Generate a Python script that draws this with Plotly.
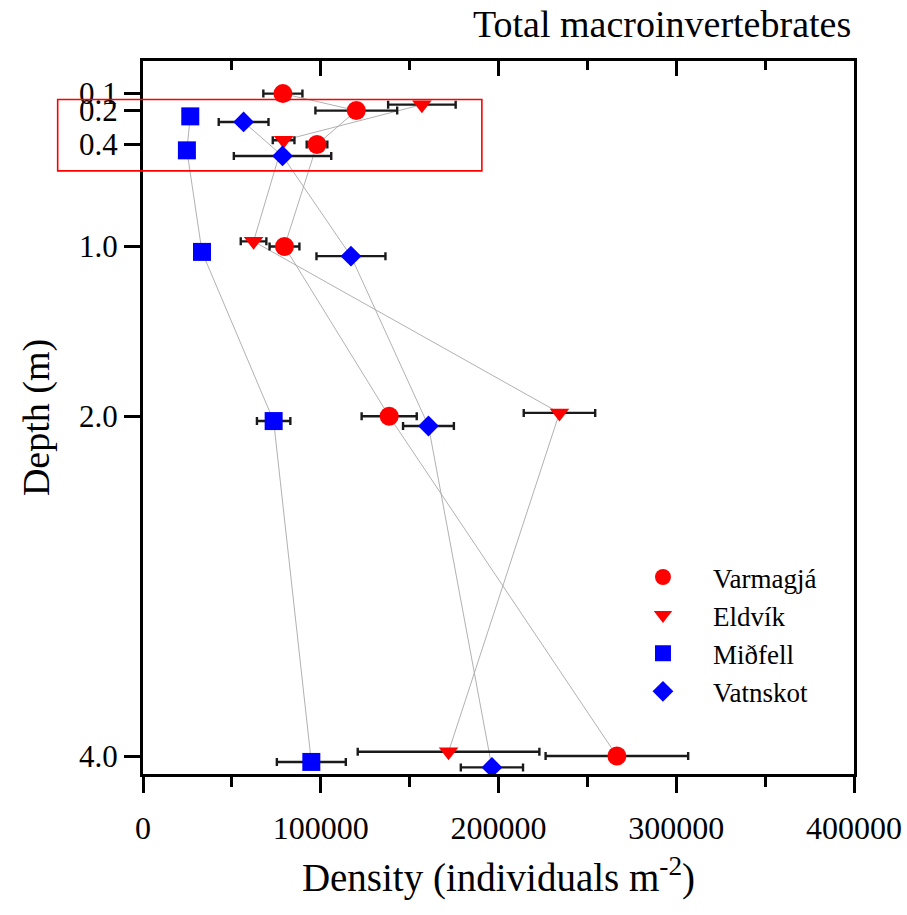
import plotly.graph_objects as go

# ---- data ----
series_names = ["Varmagjá", "Eldvík", "Miðfell", "Vatnskot"]

depth_varmagja = [0.1, 0.2, 0.4, 1.0, 2.0, 4.0]
dens_varmagja = [78700, 120000, 97900, 79600, 138500, 266600]
err_varmagja = [11000, 23000, 5800, 8400, 15500, 40100]

depth_eldvik = [0.165, 0.375, 0.97, 1.98, 3.975]
dens_eldvik = [156900, 79100, 62200, 234300, 171900]
err_eldvik = [19000, 6100, 7200, 20100, 51100]

depth_midfell = [0.234, 0.434, 1.032, 2.028, 4.035]
dens_midfell = [26600, 24700, 33200, 73500, 94700]
err_midfell = [3000, 3000, 3000, 9400, 19400]

depth_vatnskot = [0.267, 0.467, 1.057, 2.057, 4.067]
dens_vatnskot = [56600, 78500, 117000, 160600, 196300]
err_vatnskot = [14000, 27400, 19400, 14300, 17500]

y_tickvals = [0.1, 0.2, 0.4, 1.0, 2.0, 4.0]
y_ticktext = ["0.1", "0.2", "0.4", "1.0", "2.0", "4.0"]
x_tickvals = [0, 100000, 200000, 300000, 400000]
x_ticktext = ["0", "100000", "200000", "300000", "400000"]

FONT = "Liberation Serif"

series = [
    ("Varmagjá", depth_varmagja, dens_varmagja, err_varmagja, "circle", 19, "#ff0000"),
    ("Eldvík", depth_eldvik, dens_eldvik, err_eldvik, "triangle-down", 17, "#ff0000"),
    ("Miðfell", depth_midfell, dens_midfell, err_midfell, "square", 18, "#0000ff"),
    ("Vatnskot", depth_vatnskot, dens_vatnskot, err_vatnskot, "diamond", 16, "#0000ff"),
]

fig = go.Figure()

# connecting grey lines (beneath)
for name, d, x, e, sym, sz, col in series:
    fig.add_trace(go.Scatter(
        x=x, y=d, mode="lines", showlegend=False, hoverinfo="skip",
        line=dict(color="#a8a8a8", width=0.9),
    ))

# markers with error bars
for name, d, x, e, sym, sz, col in series:
    fig.add_trace(go.Scatter(
        x=x, y=d, mode="markers", name=name,
        marker=dict(symbol=sym, size=sz, color=col, line=dict(width=0)),
        error_x=dict(type="data", array=e, visible=True, color="#1a1a1a",
                     thickness=2.4, width=4),
    ))

# dummy trace for the top (inward ticks) axis
fig.add_trace(go.Scatter(x=[None], y=[None], xaxis="x2", showlegend=False,
                         hoverinfo="skip"))

axis_common = dict(showgrid=False, zeroline=False, color="black", automargin=False)

fig.update_layout(
    width=907, height=915,
    margin=dict(l=143, r=53, t=61, b=141, autoexpand=False),
    paper_bgcolor="white", plot_bgcolor="white",
    font=dict(family=FONT, color="black", size=32),
    xaxis=dict(
        **axis_common,
        range=[0, 400000],
        tickmode="array", tickvals=x_tickvals, ticktext=x_ticktext,
        ticks="outside", ticklen=16, tickwidth=3, tickcolor="black",
        ticklabelstandoff=8,
        minor=dict(ticks="outside", ticklen=10, tickwidth=3, tickcolor="black", dtick=50000),
        showline=True, linewidth=3, linecolor="black", mirror=True,
        tickfont=dict(family=FONT, size=32),
        title=dict(text="Density (individuals m<sup>-2</sup>)",
                   font=dict(family=FONT, size=39), standoff=19),
    ),
    xaxis2=dict(
        **axis_common,
        overlaying="x", side="top", matches="x", range=[0, 400000],
        tickmode="array", tickvals=x_tickvals, showticklabels=False,
        ticks="inside", ticklen=15, tickwidth=3, tickcolor="black",
        minor=dict(ticks="inside", ticklen=9, tickwidth=3, tickcolor="black", dtick=50000),
        showline=False,
    ),
    yaxis=dict(
        **axis_common,
        range=[4.106, -0.092],
        tickmode="array", tickvals=y_tickvals, ticktext=y_ticktext,
        ticks="outside", ticklen=16, tickwidth=3, tickcolor="black",
        showline=True, linewidth=3, linecolor="black", mirror=True,
        tickfont=dict(family=FONT, size=31),
        title=dict(text="Depth (m)", font=dict(family=FONT, size=38), standoff=18),
    ),
    legend=dict(
        x=0.661, y=0.310, xanchor="left", yanchor="top",
        bgcolor="rgba(0,0,0,0)", borderwidth=0,
        font=dict(family=FONT, size=27), itemwidth=90,
        tracegroupgap=0,
    ),
    showlegend=True,
)

# title
fig.add_annotation(
    text="Total macroinvertebrates", xref="paper", yref="paper",
    x=0.998, y=1.052, xanchor="right", yanchor="middle", showarrow=False,
    font=dict(family=FONT, size=38, color="black"),
)

# red highlight box around the shallow depths
fig.add_shape(
    type="rect", xref="paper", yref="paper",
    x0=-0.12, x1=0.4766, y0=0.8459, y1=0.9459,
    line=dict(color="#ff0000", width=1.6), fillcolor="rgba(0,0,0,0)",
)

fig.write_html("out.html")
